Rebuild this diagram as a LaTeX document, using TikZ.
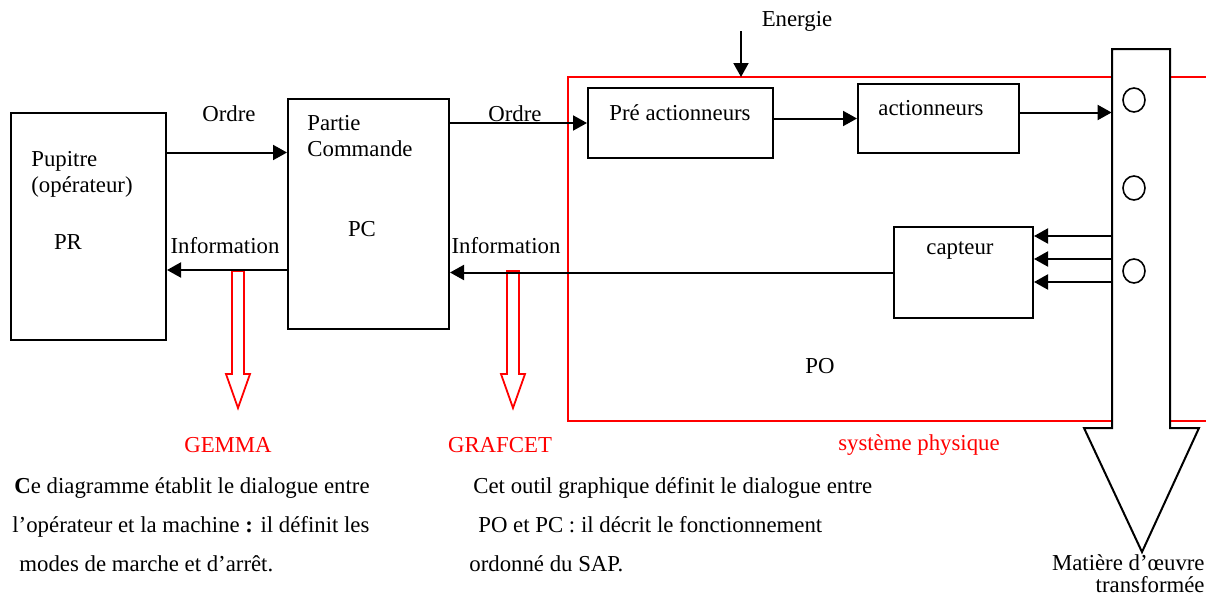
\documentclass[tikz,border=0pt]{standalone}
\usepackage{fontspec}
\setmainfont{Liberation Serif}
\usepackage{xcolor}
\usepackage{tikz}
\usetikzlibrary{arrows.meta,positioning}
\definecolor{sapred}{HTML}{FF0000}

\begin{document}
\begin{tikzpicture}[
  x=0.5pt, y=-0.5pt,
  font=\fontsize{11.4}{13}\selectfont,
  blk/.style={draw, line width=1pt, inner sep=0pt},
  lbl/.style={inner sep=0pt},
  arr/.style={-{Triangle[length=7pt,width=7.5pt]}, line width=1pt},
  redtxt/.style={inner sep=0pt, text=sapred}
]
  \useasboundingbox (0,0) rectangle (1206,595);
  % system frame
  \draw[sapred, line width=1pt] (1206,77) -| (568,421) -- (1206,421);
  % boxes
  \node[blk, minimum width=77.5pt, minimum height=113.5pt] (pr) at (88.5,226.5) {};
  \node[blk, minimum width=80.5pt, minimum height=115pt] (pc) at (368.5,214) {};
  \node[blk, minimum width=92.5pt, minimum height=35pt] (pre) at (680.5,123) {};
  \node[blk, minimum width=80.5pt, minimum height=34.5pt] (act) at (938.5,118.5) {};
  \node[blk, minimum width=69.5pt, minimum height=45.5pt] (cap) at (963.5,272.5) {};
  \node[inner sep=0pt, minimum width=29pt, minimum height=189.5pt] (col) at (1141,238.5) {};
  % matter flow
  \draw[line width=1pt, fill=white] (1112,428) -- (1112,49) -- (1170,49) -- (1170,428)
    -- (1199,428) -- (1142,552) -- (1084,428) -- cycle;
  \foreach \cy in {100,188,271}
    \draw[line width=0.8pt] (1134,\cy) circle[x radius=5.5pt, y radius=6pt];
  % red hollow arrows
  \foreach \gx in {238,513}
    \draw[sapred, line width=0.9pt, fill=white] (\gx-6,271) -- (\gx-6,374) -- (\gx-12,374)
      -- (\gx,408) -- (\gx+12,374) -- (\gx+6,374) -- (\gx+6,271) -- cycle;
  % texts
  \node[lbl, align=left, anchor=west] (pupitre) at (31,174) {Pupitre\\(opérateur)};
  \node[lbl] (prl) at (68,242) {PR};
  \node[lbl, align=left, anchor=west] (partie) at (307,136) {Partie\\Commande};
  \node[lbl] (pcl) at (362,229) {PC};
  \node[lbl] (prel) at (680,113) {Pré actionneurs};
  \node[lbl] (actl) at (931,108) {actionneurs};
  \node[lbl] (capl) at (960,251) {capteur};
  \node[lbl] (pol) at (820,366) {PO};
  \node[lbl] (energie) at (797,21) {Energie};
  \node[lbl] (ordre1) at (229,114) {Ordre};
  \node[lbl] (ordre2) at (515,114) {Ordre};
  \node[lbl] (info1) at (225,246) {Information};
  \node[lbl] (info2) at (506,246) {Information};
  \node[redtxt] (gemma) at (228,445) {GEMMA};
  \node[redtxt] (grafcet) at (500,445) {GRAFCET};
  \node[redtxt] (sysph) at (919,445) {système physique};
  \node[lbl, align=left, anchor=west] (txtgemma) at (12,525)
    {\hspace{1pt}\textbf{C}e diagramme établit le dialogue entre\\[6.5pt]
     l’opérateur et la machine \textbf{:} il définit les\\[6.5pt]
     \hspace{3.5pt}modes de marche et d’arrêt.};
  \node[lbl, align=left, anchor=west] (txtgrafcet) at (469,525)
    {\hspace{2pt}Cet outil graphique définit le dialogue entre\\[6.5pt]
     \hspace{4.5pt}PO et PC : il décrit le fonctionnement\\[6.5pt]
     ordonné du SAP.};
  \node[lbl, align=right, anchor=east] (matiere) at (1205,574)
    {Matière d’œuvre\\[-2pt]transformée\hspace{3pt}};
  % connectors
  \coordinate (en) at (741,31);
  \draw[arr] (en) -- (en |- 0,77);
  \coordinate (o1) at ([yshift=37pt]pr.east);
  \draw[arr] (o1) -- (o1 -| pc.west);
  \coordinate (i1) at ([yshift=-28pt]pc.west);
  \draw[arr] (i1) -- (i1 -| pr.east);
  \draw[arr] (pre.west -| pc.east) -- (pre.west);
  \draw[arr] (act.west -| pre.east) -- (act.west);
  \coordinate (a1) at ([yshift=3pt]act.east);
  \draw[arr] (a1) -- (a1 -| col.west);
  \draw[arr] (cap.west) -- (cap.west -| pc.east);
  \foreach \dy in {18.25,6.75,-4.75}
    \draw[arr] ([yshift=\dy pt]cap.east -| col.west) -- ([yshift=\dy pt]cap.east);
\end{tikzpicture}
\end{document}
